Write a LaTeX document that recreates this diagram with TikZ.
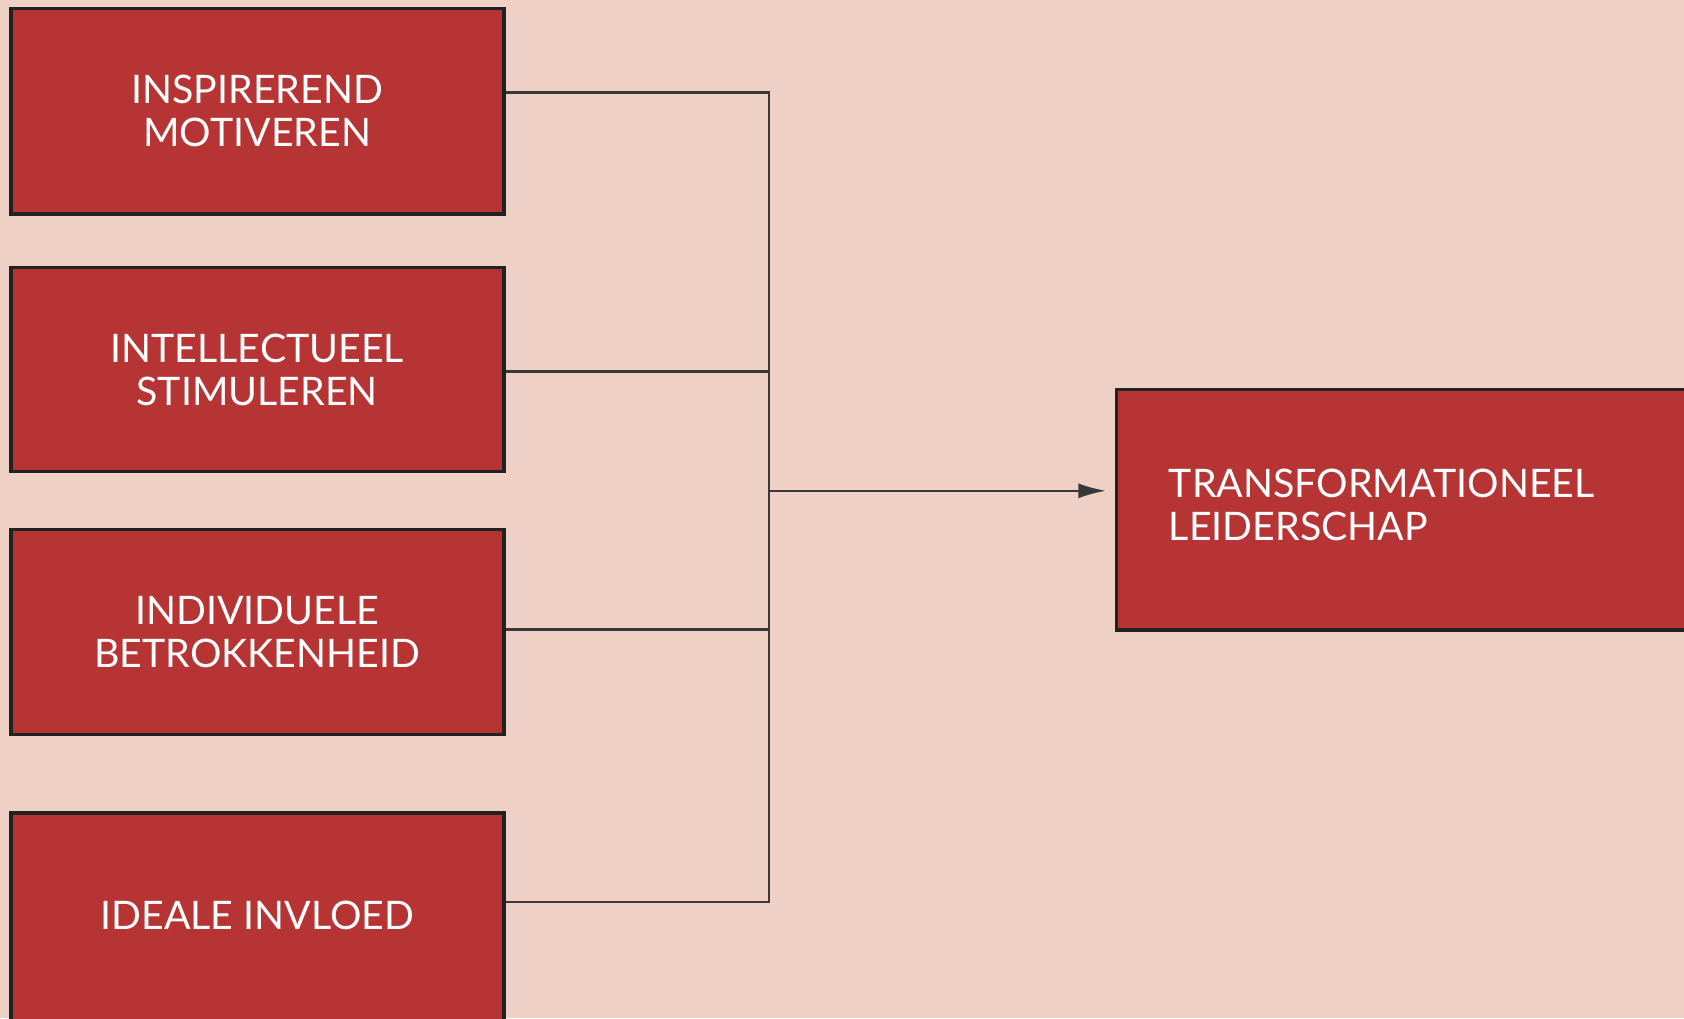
\documentclass[tikz,border=0pt]{standalone}
\usepackage{fontspec}
\setmainfont{Lato}
\usetikzlibrary{arrows.meta}
\definecolor{bgc}{HTML}{EFD0C5}
\definecolor{boxred}{HTML}{B73435}
\definecolor{edge}{HTML}{222222}
\begin{document}
\begin{tikzpicture}[x=0.5pt,y=-0.5pt,
  box/.style={draw=edge,line width=1.7pt,fill=boxred,text=white,inner sep=0pt,
    font=\fontsize{18.3}{20}\selectfont,align=center},
  lbl/.style={text=white,font=\fontsize{18.3}{20}\selectfont},
  conn/.style={draw=edge!90,line width=1.2pt}]
\useasboundingbox (0,0) rectangle (1568,948);
\fill[bgc] (0,0) rectangle (1568,948);
\begin{scope}
\clip (0,0) rectangle (1568,948);
\node[box,minimum width=229.5pt,minimum height=95.5pt] (b1) at (239.5,103.5) {INSPIREREND\\MOTIVEREN};
\node[box,minimum width=229.5pt,minimum height=95pt] (b2) at (239.5,344) {INTELLECTUEEL\\STIMULEREN};
\node[box,minimum width=229.5pt,minimum height=95.5pt] (b3) at (239.5,588.5) {INDIVIDUELE\\BETROKKENHEID};
\node[box,minimum width=229.5pt,minimum height=100pt] (b4) at (239.5,857) {};
\node[lbl] (b4t) at (239.5,852) {IDEALE INVLOED};
\node[box,minimum width=275pt,minimum height=112pt,anchor=north west] (t) at (1038,361) {};
\node[lbl,align=left,anchor=west,inner sep=0pt] (tt) at (1088,470) {TRANSFORMATIONEEL\\LEIDERSCHAP};
\end{scope}
\coordinate (bus1) at (716,86);
\coordinate (bus2) at (716,346);
\coordinate (bus3) at (716,586);
\coordinate (bus4) at (716,840);
\coordinate (busm) at (716,457);
\draw[conn] (b1.east |- bus1) -- (bus1) -- (bus4) -- (b4.east |- bus4);
\draw[conn] (b2.east |- bus2) -- (bus2);
\draw[conn] (b3.east |- bus3) -- (bus3);
\draw[conn,-{Latex[length=13pt,width=7pt]},shorten >=4pt] (busm) -- (t.west |- busm);
\end{tikzpicture}
\end{document}
